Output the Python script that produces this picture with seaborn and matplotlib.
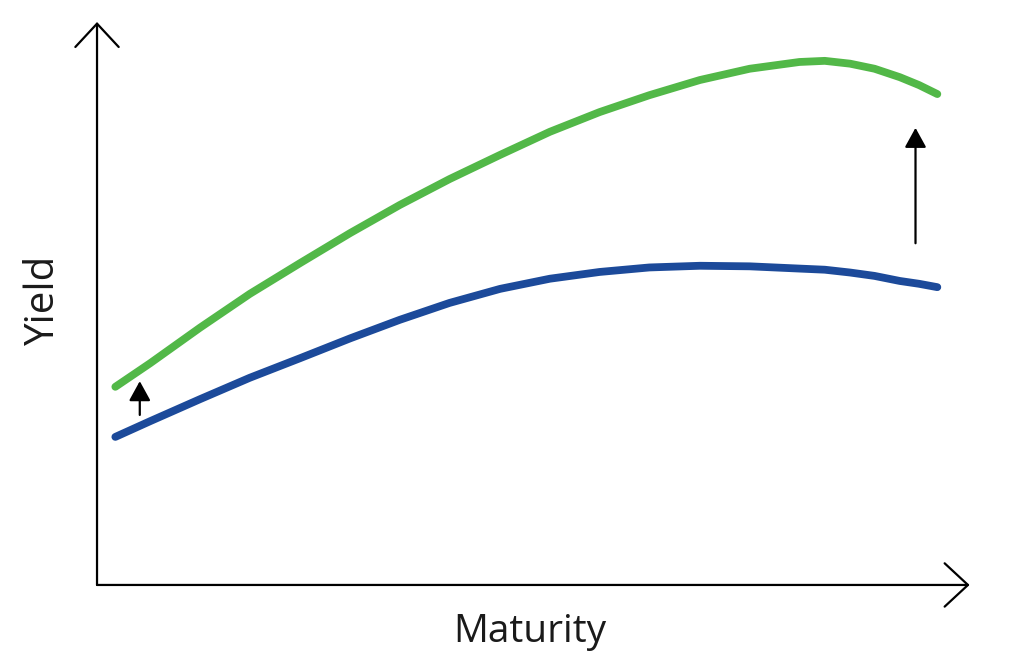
import matplotlib
matplotlib.use("Agg")
import matplotlib.pyplot as plt
import seaborn as sns
import pandas as pd

# maturity positions (arbitrary units, axis runs 0..10)
maturity = [0.21, 0.61, 1.18, 1.75, 2.33, 2.90, 3.47, 4.04, 4.62, 5.19, 5.76,
            6.33, 6.91, 7.48, 8.05, 8.34, 8.63, 8.91, 9.20, 9.42, 9.63]
# yield before the shift (blue) and after (green)
yield_before = [2.63, 2.91, 3.30, 3.68, 4.03, 4.38, 4.71, 5.01, 5.26, 5.44, 5.56,
                5.64, 5.67, 5.66, 5.62, 5.60, 5.55, 5.49, 5.40, 5.35, 5.29]
yield_after = [3.52, 3.94, 4.57, 5.17, 5.72, 6.25, 6.75, 7.21, 7.64, 8.05, 8.40,
               8.70, 8.97, 9.17, 9.29, 9.31, 9.26, 9.17, 9.02, 8.88, 8.72]

# shift arrows: x position, start, end
shift_x = [0.49, 9.38]
shift_from = [3.02, 6.07]
shift_to = [3.62, 8.12]

df = pd.DataFrame({"maturity": maturity * 2,
                   "yield": yield_before + yield_after,
                   "curve": ["before"] * len(maturity) + ["after"] * len(maturity)})

sns.set_theme(style="white")
plt.rcParams['font.family'] = ['Open Sans', 'DejaVu Sans']

fig = plt.figure(figsize=(10.17, 6.67), dpi=100)
ax = fig.add_axes([0.0954, 0.123, 0.858, 0.844])

sns.lineplot(data=df, x="maturity", y="yield", hue="curve",
             palette={"before": "#1c4a9a", "after": "#52b848"},
             linewidth=5.6, legend=False, ax=ax, sort=False)
for ln in ax.lines:
    ln.set_solid_capstyle("round")
    ln.set_solid_joinstyle("round")

ax.set_xlim(0, 10)
ax.set_ylim(0, 10)
for s in ax.spines.values():
    s.set_visible(False)
ax.set_xticks([])
ax.set_yticks([])
ax.set_xlabel("")
ax.set_ylabel("")

# axes drawn as open arrows
axis_style = dict(arrowstyle="->,head_length=1.4,head_width=1.3", color="black",
                  lw=1.6, shrinkA=0, shrinkB=0)
ax.annotate("", xy=(10, 0), xytext=(0, 0), arrowprops=axis_style, annotation_clip=False)
ax.annotate("", xy=(0, 10), xytext=(0, 0), arrowprops=axis_style, annotation_clip=False)

# shift arrows
for x, y0, y1 in zip(shift_x, shift_from, shift_to):
    ax.annotate("", xy=(x, y1), xytext=(x, y0),
                arrowprops=dict(arrowstyle="-|>,head_length=1.0,head_width=0.55",
                                color="black", lw=1.6, shrinkA=0, shrinkB=0))

fig.text(0.521, 0.052, "Maturity", ha="center", va="center", fontsize=28, color="#1a1a1a")
fig.text(0.043, 0.55, "Yield", ha="center", va="center", rotation=90, fontsize=29, color="#1a1a1a")

fig.savefig("out.png", dpi=100)
